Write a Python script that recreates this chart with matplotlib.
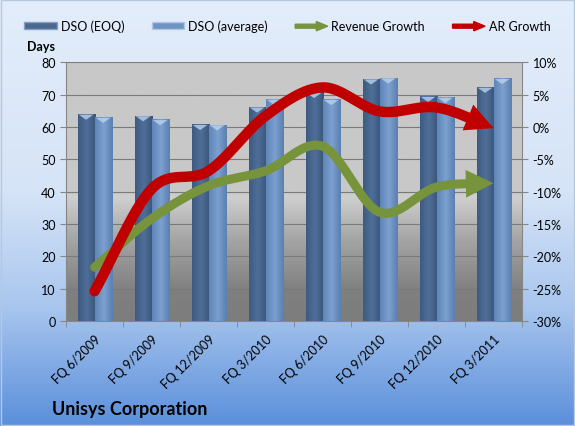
import numpy as np
import matplotlib
matplotlib.use("Agg")
import matplotlib.pyplot as plt
import matplotlib.patches as mpatches
import matplotlib.transforms as mtransforms
from matplotlib.colors import LinearSegmentedColormap
from matplotlib.legend_handler import HandlerPatch

# data
quarters = ["FQ 6/2009", "FQ 9/2009", "FQ 12/2009", "FQ 3/2010",
            "FQ 6/2010", "FQ 9/2010", "FQ 12/2010", "FQ 3/2011"]
dso_eoq = [64.0, 63.5, 60.8, 66.2, 70.7, 74.9, 69.5, 72.3]
dso_avg = [63.0, 62.3, 60.7, 68.6, 68.5, 75.2, 69.2, 75.0]
rev_growth = [-21.7, -14.2, -9.1, -6.8, -3.0, -13.2, -9.3, -8.7]
ar_growth = [-25.4, -9.6, -6.8, 1.7, 6.1, 2.4, 3.0, -0.2]

plt.rcParams['font.family'] = ['Lato', 'DejaVu Sans']

RED = '#c00000'
GREEN = '#77933c'
EOQ_C = '#4a6890'
AVG_C = '#7094c2'


def smooth(ys, n=30):
    # catmull-rom through the points, like excel's smoothed line
    xs = np.arange(len(ys), dtype=float)
    P = np.column_stack([xs, ys])
    P = np.vstack([P[0] * 2 - P[1], P, P[-1] * 2 - P[-2]])
    out = []
    for i in range(1, len(P) - 2):
        p0, p1, p2, p3 = P[i - 1], P[i], P[i + 1], P[i + 2]
        t = np.linspace(0, 1, n, endpoint=False)[:, None]
        seg = 0.5 * ((2 * p1) + (-p0 + p2) * t + (2 * p0 - 5 * p1 + 4 * p2 - p3) * t ** 2
                     + (-p0 + 3 * p1 - 3 * p2 + p3) * t ** 3)
        out.append(seg)
    out.append(P[-2][None, :])
    return np.vstack(out)


fig = plt.figure(figsize=(5.75, 4.27), dpi=100)

# figure background gradient
bg = fig.add_axes([0, 0, 1, 1], zorder=-10)
bg_cmap = LinearSegmentedColormap.from_list(
    'bg', [(0, '#e3edfb'), (0.45, '#d6e4f7'), (0.72, '#a9c6ee'), (1, '#5b8fdb')])
bg.imshow(np.linspace(0, 1, 256)[:, None], aspect='auto', cmap=bg_cmap,
          extent=[0, 1, 0, 1])
bg.set_axis_off()
fig.patches.append(mpatches.Rectangle((0.002, 0.002), 0.996, 0.996, transform=fig.transFigure,
                                      fill=False, edgecolor='#b8c8dc', lw=1))

ax = fig.add_axes([0.115, 0.246, 0.793, 0.606])
x = np.arange(len(quarters))
ax.set_xlim(-0.5, len(quarters) - 0.5)
ax.set_ylim(0, 80)

# plot area gradient (gray)
pa_cmap = LinearSegmentedColormap.from_list(
    'pa', [(0, '#7d7d7d'), (0.12, '#808080'), (0.32, '#a6a6a6'), (0.48, '#cfcfcf'),
           (0.5, '#c8c8c8'), (1, '#c8c8c8')])
ax.imshow(np.linspace(0, 1, 256)[::-1, None], aspect='auto', cmap=pa_cmap,
          extent=[-0.5, len(quarters) - 0.5, 0, 80], zorder=0)

for yv in range(10, 81, 10):
    ax.axhline(yv, color='#7a7a7a', lw=0.8, zorder=1)

w = 0.3
eoq_cmap = LinearSegmentedColormap.from_list('e', ['#3e5a80', '#4f6f99', '#3a5479'])
avg_cmap = LinearSegmentedColormap.from_list('a', ['#5f86b8', '#7ca0cf', '#5a80b0'])
bars1 = ax.bar(x - w / 2, dso_eoq, w, color=EOQ_C, edgecolor='#6d86a8', lw=0.6, zorder=2)
bars2 = ax.bar(x + w / 2, dso_avg, w, color=AVG_C, edgecolor='#8aa6cc', lw=0.6, zorder=2)
grad = np.linspace(0, 1, 64)[None, :]
for bars, cm in ((bars1, eoq_cmap), (bars2, avg_cmap)):
    for b in bars:
        im = ax.imshow(grad, aspect='auto', cmap=cm, zorder=2.5,
                       extent=[b.get_x(), b.get_x() + b.get_width(), 0, b.get_height()])
        im.set_clip_path(b)
        # light cap on top of each cylinder
        ax.add_patch(mpatches.Polygon(
            [[b.get_x() + 0.02, b.get_height() - 0.2],
             [b.get_x() + b.get_width() - 0.02, b.get_height() - 0.2],
             [b.get_x() + b.get_width() / 2, b.get_height() - 1.8]],
            closed=True, color='#b9d3ee', alpha=0.8, zorder=3, lw=0))

ax.set_xticks(x)
ax.set_xticklabels(quarters, rotation=45, ha='right', rotation_mode='anchor', fontsize=9)
shift = mtransforms.ScaledTranslation(-6 / 100, 0, fig.dpi_scale_trans)
for lab in ax.get_xticklabels():
    lab.set_transform(lab.get_transform() + shift)
ax.set_xticks(np.arange(-0.5, len(quarters)), minor=True)
ax.tick_params(axis='x', which='major', length=0, pad=8)
ax.tick_params(axis='x', which='minor', length=4, color='#868686')
ax.set_yticks(range(0, 81, 10))
ax.tick_params(axis='y', labelsize=9, length=4, color='#868686')
for s in ('top', 'right'):
    ax.spines[s].set_visible(False)
for s in ('left', 'bottom'):
    ax.spines[s].set_color('#868686')

ax2 = ax.twinx()
ax2.set_ylim(-30, 10)
ax2.set_yticks(range(-30, 11, 5))
ax2.set_yticklabels([f'{v}%' for v in range(-30, 11, 5)], fontsize=9)
ax2.tick_params(axis='y', length=4, color='#868686')
for s in ('top', 'left', 'bottom'):
    ax2.spines[s].set_visible(False)
ax2.spines['right'].set_color('#868686')

n = 30
for vals, col, lw in ((rev_growth, GREEN, 6.5), (ar_growth, RED, 7.5)):
    pts = smooth(vals, n)
    cut = len(pts) - 1 - int(n * 0.45)
    ax2.plot(pts[:cut + 2, 0], pts[:cut + 2, 1], color=col, lw=lw,
             solid_capstyle='round', solid_joinstyle='round', zorder=4)
    head = mpatches.FancyArrowPatch(
        posA=tuple(pts[cut]), posB=tuple(pts[-1]),
        arrowstyle='-|>,head_length=1.0,head_width=0.5', mutation_scale=20,
        color=col, lw=0, shrinkA=0, shrinkB=0, zorder=4)
    ax2.add_patch(head)

fig.text(0.047, 0.89, 'Days', fontsize=9, fontweight='bold', ha='left', va='center')
fig.text(0.09, 0.04, 'Unisys Corporation', fontsize=13, fontweight='bold',
         ha='left', va='center')


def make_arrow(legend, orig_handle, xdescent, ydescent, width, height, fontsize):
    return mpatches.FancyArrow(0, height / 2, width, 0, width=height * 0.55,
                               head_width=height * 1.3, head_length=width * 0.35,
                               length_includes_head=True)


handles = [mpatches.Patch(facecolor=EOQ_C, edgecolor='#8aa0c0'),
           mpatches.Patch(facecolor=AVG_C, edgecolor='#b0c8e4'),
           mpatches.FancyArrow(0, 0, 1, 0, color=GREEN),
           mpatches.FancyArrow(0, 0, 1, 0, color=RED)]
labels = ['DSO (EOQ)', 'DSO (average)', 'Revenue Growth', 'AR Growth']
fig.legend(handles, labels, loc='center', bbox_to_anchor=(0.5, 0.938), ncol=4,
           frameon=False, fontsize=9, handlelength=2.6, handleheight=0.5,
           columnspacing=2.2, handletextpad=0.3,
           handler_map={mpatches.FancyArrow: HandlerPatch(patch_func=make_arrow)})

fig.savefig('out.png', dpi=100)
